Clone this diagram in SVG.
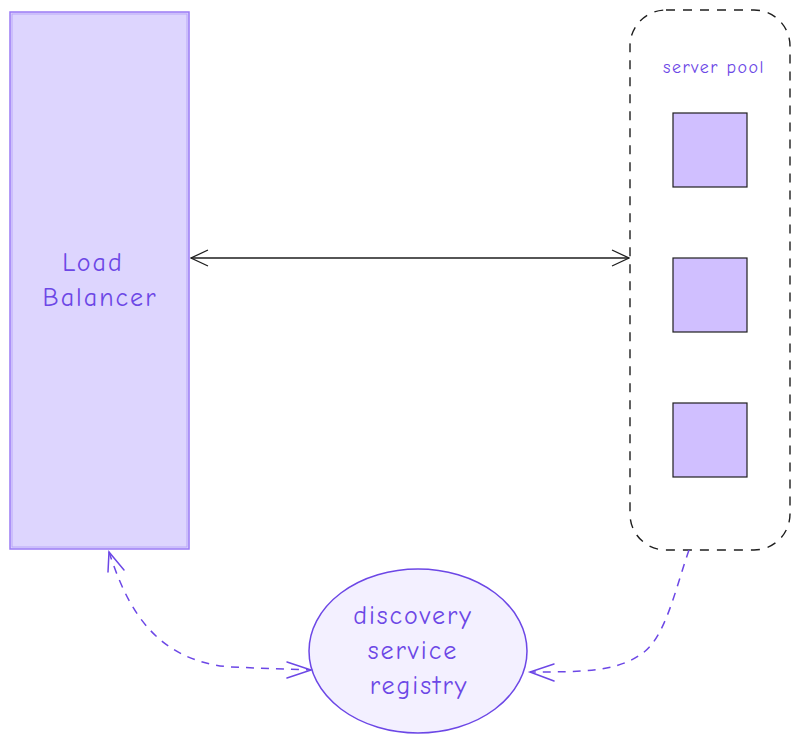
<svg xmlns="http://www.w3.org/2000/svg" width="800" height="743" viewBox="0 0 800 743">
<style>
.hand{font-family:"Comic Neue","Liberation Sans",sans-serif;fill:#6c47e6}
.big{font-size:26px;letter-spacing:2px}
.sq{fill:#d0bfff;stroke:#1e1e1e;stroke-width:1.2}
.conn{fill:none;stroke:#6c47e6;stroke-width:1.5;stroke-dasharray:8 7}
.head{fill:none;stroke:#6c47e6;stroke-width:1.5;stroke-linecap:round}
</style>
<defs>
<marker id="ah" viewBox="0 0 20 20" refX="19" refY="10" markerWidth="20" markerHeight="20" markerUnits="userSpaceOnUse" orient="auto-start-reverse">
<path d="M2,2 L19,10 L2,18" fill="none" stroke="#1e1e1e" stroke-width="1.3"/>
</marker>
</defs>
<rect width="800" height="743" fill="#ffffff"/>
<g id="load-balancer">
<rect x="10" y="12" width="179" height="537" fill="#ddd5fe" stroke="#9a7bf5" stroke-width="1.5"/>
<rect x="12" y="14" width="175" height="533" fill="none" stroke="#b29cf8" stroke-width="0.8"/>
<text class="hand big" x="93" y="271" text-anchor="middle">Load</text>
<text class="hand big" x="100" y="306" text-anchor="middle">Balancer</text>
</g>
<g id="server-pool">
<rect x="630" y="10" width="160" height="540" rx="36" fill="none" stroke="#1e1e1e" stroke-width="1.4" stroke-dasharray="9 8"/>
<text class="hand" x="714" y="73" font-size="18" letter-spacing="1.5" text-anchor="middle">server pool</text>
</g>
<g id="server-1"><rect class="sq" x="673" y="113" width="74" height="74"/></g>
<g id="server-2"><rect class="sq" x="673" y="258" width="74" height="74"/></g>
<g id="server-3"><rect class="sq" x="673" y="403" width="74" height="74"/></g>
<g id="discovery">
<ellipse cx="418" cy="651" rx="109" ry="82" fill="#f3f0ff" stroke="#6c47e6" stroke-width="1.5"/>
<text class="hand big" x="413" y="624" text-anchor="middle">discovery</text>
<text class="hand big" x="413" y="659" text-anchor="middle">service</text>
<text class="hand big" x="419" y="694" text-anchor="middle">registry</text>
</g>
<g id="connectors">
<line x1="191" y1="258" x2="629" y2="258" stroke="#1e1e1e" stroke-width="1.3" marker-start="url(#ah)" marker-end="url(#ah)"/>
<path class="conn" d="M109,552 C125,600 150,660 230,667 L311,670"/>
<path class="head" d="M108,572 L109,552 L124,570"/>
<path class="head" d="M287,662 L311,670 L287,678"/>
<path class="conn" d="M689,550 C675,590 665,640 640,655 C615,672 580,672 530,672"/>
<path class="head" d="M554,664 L530,672 L554,681"/>
</g>
</svg>
